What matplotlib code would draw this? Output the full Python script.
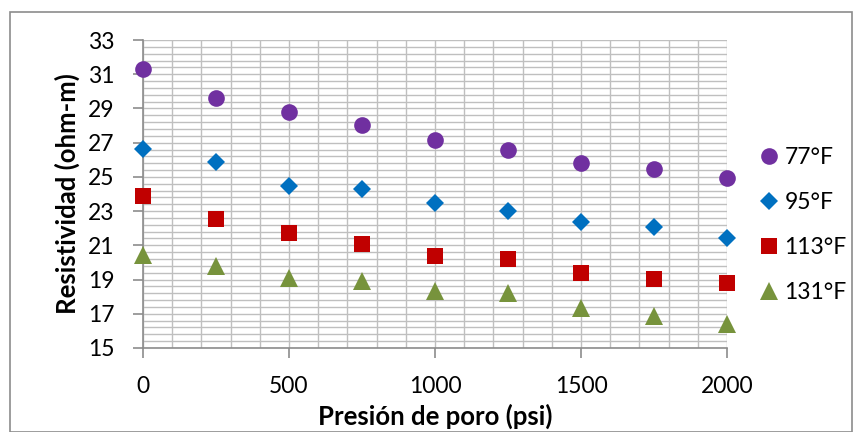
import matplotlib.pyplot as plt
from matplotlib.patches import Rectangle

# data
presion = [0, 250, 500, 750, 1000, 1250, 1500, 1750, 2000]
r77 = [31.3, 29.6, 28.8, 28.05, 27.15, 26.6, 25.8, 25.45, 24.95]
r95 = [26.65, 25.85, 24.45, 24.3, 23.5, 23.0, 22.35, 22.05, 21.45]
r113 = [23.9, 22.55, 21.7, 21.05, 20.35, 20.2, 19.4, 19.05, 18.8]
r131 = [20.45, 19.8, 19.1, 18.9, 18.35, 18.2, 17.35, 16.85, 16.4]
etiquetas = ['77°F', '95°F', '113°F', '131°F']

plt.rcParams['font.family'] = ['Lato', 'DejaVu Sans']

fig = plt.figure(figsize=(8.62, 4.32), dpi=100)
ax = fig.add_axes([143 / 862, 84 / 432, 584 / 862, 308 / 432])

# outer chart border
fig.patches.append(Rectangle((10 / 862, 0.5 / 432), 842 / 862, 420 / 432,
                             transform=fig.transFigure, fill=False,
                             edgecolor='#8c8c8c', linewidth=1.2))

series = [r77, r95, r113, r131]
colores = ['#7030A0', '#0070C0', '#C00000', '#77933C']
marcadores = ['o', 'D', 's', '^']
tamanos = [12, 9, 11.3, 12.5]
for ys, c, m, s, lab in zip(series, colores, marcadores, tamanos, etiquetas):
    ax.plot(presion, ys, linestyle='none', marker=m, markersize=s,
            color=c, markeredgewidth=0, label=lab, clip_on=False, zorder=3)

ax.set_xlim(0, 2000)
ax.set_ylim(15, 33)
ax.set_xticks(range(0, 2001, 500))
ax.set_xticks(range(0, 2001, 100), minor=True)
ax.set_yticks(range(15, 34, 2))
ax.set_yticks([15 + 0.4 * i for i in range(46)], minor=True)
ax.grid(True, which='both', color='#bfbfbf', linewidth=1.0)
ax.set_axisbelow(True)

for sp in ['top', 'right']:
    ax.spines[sp].set_visible(False)
for sp in ['left', 'bottom']:
    ax.spines[sp].set_color('#8c8c8c')
    ax.spines[sp].set_linewidth(1.2)

ax.tick_params(which='major', direction='out', length=7, width=1.2,
               color='#8c8c8c', labelsize=16.5)
ax.tick_params(which='minor', length=0)
ax.tick_params(axis='y', pad=13.5)
ax.tick_params(axis='x', pad=13)

ax.set_xlabel('Presión de poro (psi)', fontsize=18.5, fontweight='bold', labelpad=5)
ax.set_ylabel('Resistividad (ohm-m)', fontsize=18.5, fontweight='bold', labelpad=6)

ax.legend(loc='center left', bbox_to_anchor=(758 / 862, 1 - 225 / 432),
          bbox_transform=fig.transFigure, frameon=False, fontsize=16.5,
          handlelength=1.0, handletextpad=0.15, labelspacing=1.05,
          borderpad=0, borderaxespad=0)

fig.savefig('out.png', dpi=100)
